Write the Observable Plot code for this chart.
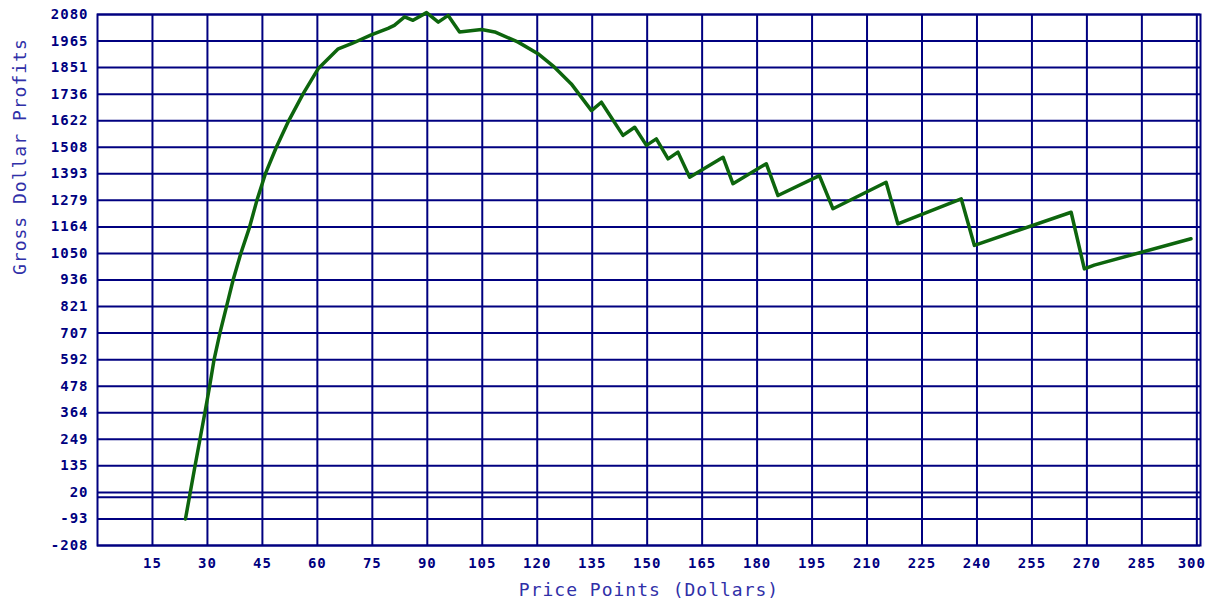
<!DOCTYPE html>
<html><head><meta charset="utf-8">
<script src="https://cdn.jsdelivr.net/npm/d3@7"></script>
<script src="https://cdn.jsdelivr.net/npm/@observablehq/plot@0.6"></script>
<style>
body{margin:0;background:#fff;}
#chart svg{display:block;}
#chart svg text{letter-spacing:1px;}
</style></head><body><div id="chart"></div>
<script>
const price = [24, 26.5, 29.3, 30.6, 31.8, 33.4, 35.2, 37, 39.1, 41.5, 43.5, 45.8, 48.8, 52.2, 56.1, 60.2, 65.7, 69.3, 74.7, 79.3, 81, 83.8, 86.1, 89.8, 93, 95.7, 98.8, 104.8, 108.4, 114.8, 120.2, 124.7, 129.3, 134.8, 137.5, 143.4, 146.6, 149.8, 152.5, 155.7, 158.4, 161.6, 170.7, 173.4, 182.5, 185.7, 197, 200.7, 215.2, 218.4, 235.7, 239.3, 265.7, 269.3, 272, 298.4];
const profit = [-94, 125, 364, 478, 592, 707, 821, 936, 1050, 1164, 1279, 1393, 1508, 1623, 1738, 1846, 1932, 1954, 1992, 2020, 2033, 2070, 2055, 2088, 2047, 2076, 2005, 2015, 2005, 1961, 1911, 1853, 1781, 1666, 1702, 1559, 1594, 1516, 1544, 1458, 1487, 1379, 1465, 1351, 1437, 1300, 1386, 1243, 1357, 1178, 1286, 1085, 1228, 984, 1000, 1114];
const xTicks = [15, 30, 45, 60, 75, 90, 105, 120, 135, 150, 165, 180, 195, 210, 225, 240, 255, 270, 285, 300];
const yTicks = [-208, -93.6, 20.8, 135.2, 249.6, 364, 478.4, 592.8, 707.2, 821.6, 936, 1050.4, 1164.8, 1279.2, 1393.6, 1508, 1622.4, 1736.8, 1851.2, 1965.6, 2080];
const yTickLabels = ["-208", "-93", "20", "135", "249", "364", "478", "592", "707", "821", "936", "1050", "1164", "1279", "1393", "1508", "1622", "1736", "1851", "1965", "2080"];
const zeroLine = [0];
const xTitle = ["Price Points (Dollars)"];
const yTitle = ["Gross Dollar Profits"];

const data = price.map((p, i) => ({price: p, profit: profit[i]}));
const navy = "#000080";
const tickStyle = {tickSize: 0, fill: navy, fontSize: 14, fontWeight: "bold", label: null};
const chart = Plot.plot({
  width: 1207, height: 604,
  marginLeft: 97, marginRight: 7, marginTop: 14, marginBottom: 59,
  style: {fontFamily: "'DejaVu Sans Mono', monospace", background: "#fff"},
  x: {domain: [0, 301]},
  y: {domain: [-208, 2080]},
  marks: [
    Plot.gridX(xTicks, {stroke: navy, strokeOpacity: 1, strokeWidth: 2}),
    Plot.gridY(yTicks, {stroke: navy, strokeOpacity: 1, strokeWidth: 2}),
    Plot.ruleY(zeroLine, {stroke: navy, strokeWidth: 2}),
    Plot.frame({stroke: navy, strokeWidth: 2}),
    Plot.line(data, {x: "price", y: "profit", stroke: "#0d650d", strokeWidth: 3.5}),
    Plot.axisX(xTicks.slice(0, -1), {...tickStyle, tickPadding: 13}),
    Plot.axisX(xTicks.slice(-1), {...tickStyle, tickPadding: 13, dx: -5}),
    Plot.axisY(yTicks, {...tickStyle, tickPadding: 9,
      tickFormat: d => yTickLabels[yTicks.indexOf(d)]}),
    Plot.text(xTitle, {frameAnchor: "bottom", dy: 50, fill: "#3030a8", fontSize: 18}),
    Plot.text(yTitle, {frameAnchor: "left", dx: -77, dy: -5, rotate: -90, fill: "#3030a8", fontSize: 18})
  ]
});
document.getElementById("chart").append(chart);
</script></body></html>
